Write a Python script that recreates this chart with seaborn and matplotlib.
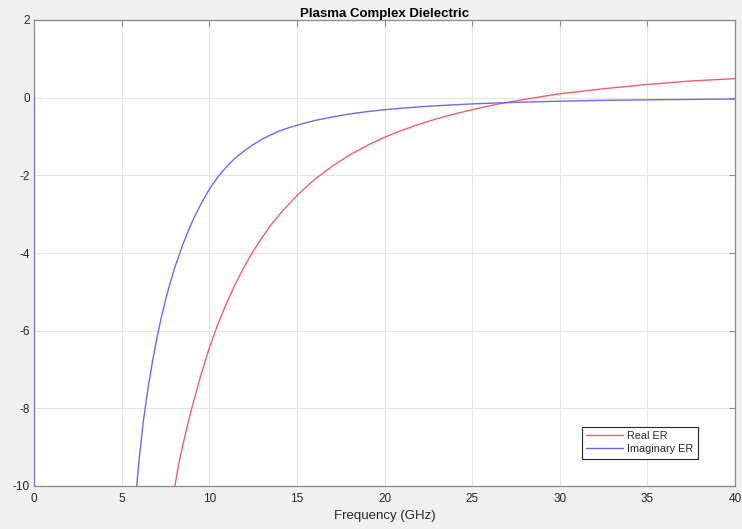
import pandas as pd
import seaborn as sns
import matplotlib.pyplot as plt

# values (GHz, dielectric)
real_freq = [7.0, 7.5, 8.04, 8.25, 8.5, 8.75, 9.0, 9.5, 10.0, 10.5, 11.0, 11.5, 12.0, 12.5,
             13.0, 13.5, 14.0, 15.0, 16.0, 17.0, 18.0, 19.0, 20.0, 21.0, 22.0, 23.0,
             24.0, 25.0, 26.0, 27.0, 28.0, 29.0, 30.0, 32.5, 35.0, 37.5, 40.0]
real_er = [-12.7, -11.3, -10.0, -9.45, -8.93, -8.45, -8.0, -7.18, -6.45, -5.82, -5.28, -4.79,
           -4.35, -3.96, -3.61, -3.29, -3.01, -2.52, -2.11, -1.77, -1.48, -1.23, -1.02, -0.84,
           -0.68, -0.54, -0.42, -0.31, -0.21, -0.12, -0.045, 0.03, 0.1, 0.23, 0.34, 0.43, 0.49]

imag_freq = [0.0, 0.01, 5.5, 5.86, 6.0, 6.25, 6.5, 6.75, 7.0, 7.25, 7.5, 7.75, 8.0, 8.5,
             9.0, 9.5, 10.0, 10.5, 11.0, 11.5, 12.0, 12.5, 13.0, 13.5, 14.0, 14.5, 15.0,
             16.0, 17.0, 18.0, 19.0, 20.0, 21.0, 22.5, 25.0, 27.5, 30.0, 32.5, 35.0,
             37.5, 40.0]
imag_er = [0.0, -400.0, -12.0, -10.0, -9.3, -8.3, -7.5, -6.82, -6.22, -5.69, -5.22, -4.8, -4.42,
           -3.77, -3.22, -2.76, -2.36, -2.04, -1.77, -1.55, -1.37, -1.21, -1.07, -0.96, -0.86,
           -0.78, -0.71, -0.59, -0.5, -0.42, -0.36, -0.31, -0.27, -0.22, -0.16, -0.12, -0.09,
           -0.07, -0.055, -0.045, -0.035]

x_ticks = [0, 5, 10, 15, 20, 25, 30, 35, 40]
y_ticks = [-10, -8, -6, -4, -2, 0, 2]

real_df = pd.DataFrame({'Frequency': real_freq, 'ER': real_er})
imag_df = pd.DataFrame({'Frequency': imag_freq, 'ER': imag_er})

sns.set_style("whitegrid")
plt.rcParams['font.family'] = ['Liberation Sans', 'DejaVu Sans']
plt.rcParams['axes.unicode_minus'] = False

fig = plt.figure(figsize=(7.42, 5.29), dpi=100, facecolor='#f0f0f0')
ax = fig.add_axes([34 / 742, 1 - 486 / 529, 701 / 742, 466 / 529])
ax.set_facecolor('white')

sns.lineplot(data=real_df, x='Frequency', y='ER', color='#f0606a', linewidth=1.0,
             estimator=None, sort=False, label='Real ER', ax=ax, zorder=3)
sns.lineplot(data=imag_df, x='Frequency', y='ER', color='#6a6af0', linewidth=1.0,
             estimator=None, sort=False, label='Imaginary ER', ax=ax, zorder=3)

ax.set_xlim(0, 40)
ax.set_ylim(-10, 2)
ax.set_xticks(x_ticks)
ax.set_yticks(y_ticks)
ax.grid(True, color='#e4e4e4', linewidth=0.8)
for s in ax.spines.values():
    s.set_color('#8a8a8a')
    s.set_linewidth(0.9)
ax.tick_params(direction='in', length=4, width=0.8, color='#8a8a8a',
               labelsize=8.5, labelcolor='#262626', top=True, right=True,
               labeltop=False, labelright=False)
ax.tick_params(axis='x', pad=5)
ax.tick_params(axis='y', pad=3)
ax.set_xlabel('Frequency (GHz)', fontsize=9.5, color='#262626', labelpad=4)
ax.set_ylabel('')
ax.set_title('Plasma Complex Dielectric', fontsize=9.5, weight='bold', color='black', pad=2)

leg = ax.legend(loc='lower right', bbox_to_anchor=(0.947, 0.059), borderaxespad=0,
                fontsize=7.8, frameon=True, fancybox=False, framealpha=1,
                edgecolor='#262626', handlelength=3.4, borderpad=0.4,
                labelspacing=0.3, handletextpad=0.4)
leg.get_frame().set_linewidth(0.8)

plt.savefig('out.png', dpi=100, facecolor=fig.get_facecolor())
